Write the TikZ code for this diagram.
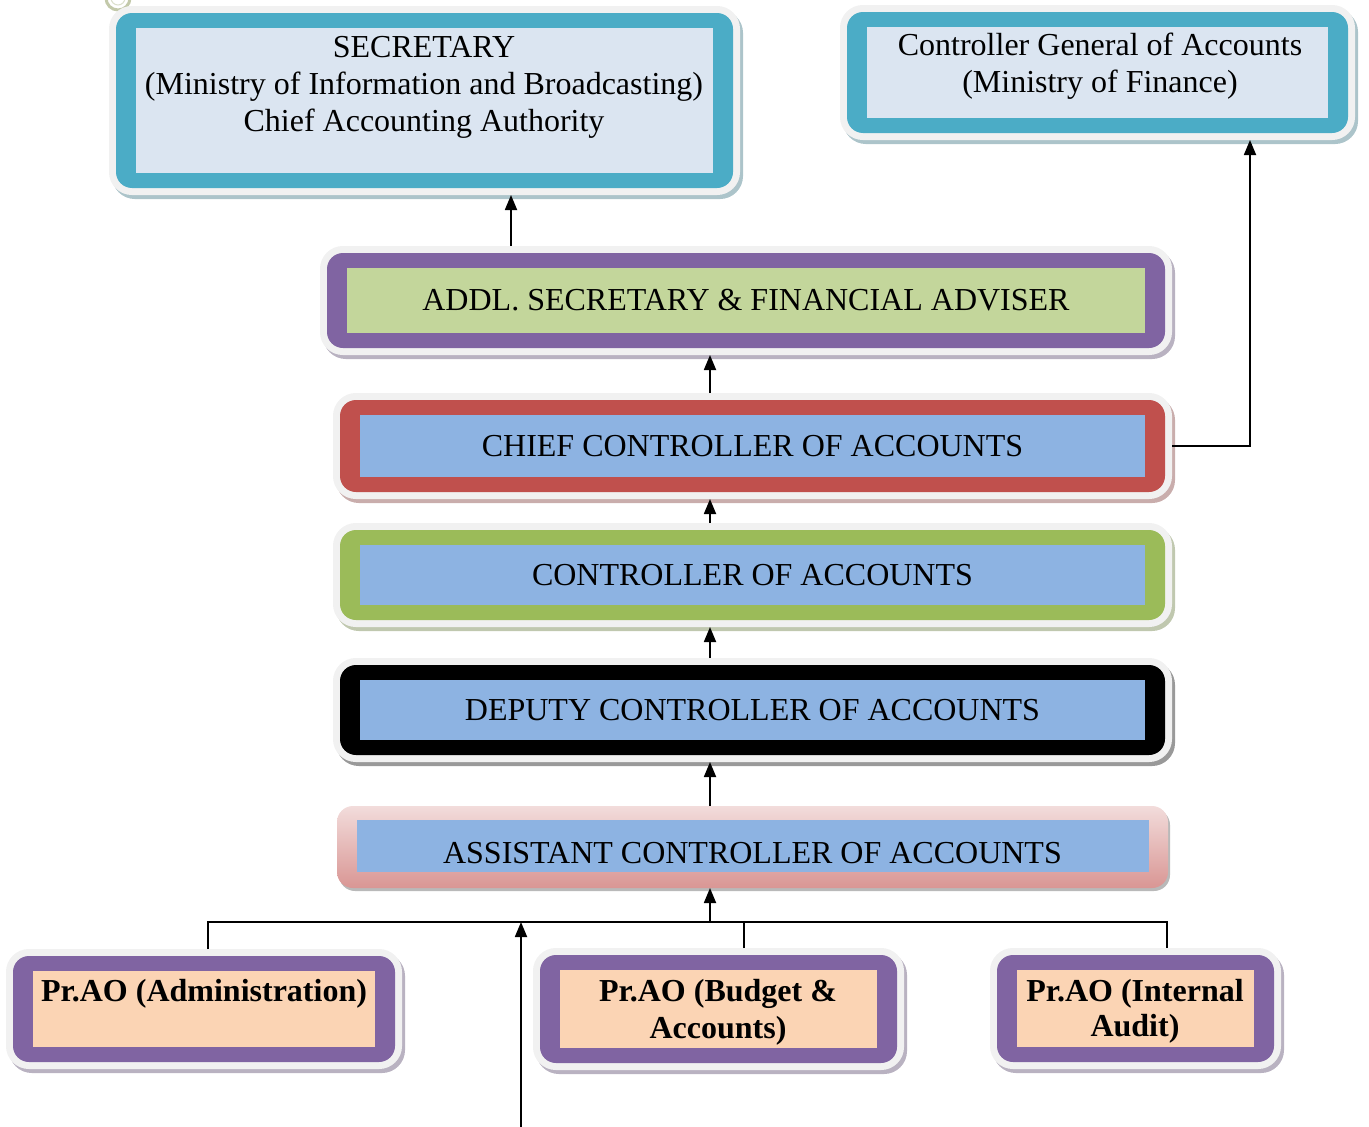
\documentclass[tikz,border=0pt]{standalone}
\usepackage{fontspec}
\setmainfont{Liberation Serif}
\usetikzlibrary{arrows.meta,shadows}
\definecolor{secBorder}{HTML}{4BACC6}
\definecolor{secFill}{HTML}{DBE5F1}
\definecolor{advBorder}{HTML}{8064A2}
\definecolor{advFill}{HTML}{C3D69B}
\definecolor{chiefBorder}{HTML}{C0504D}
\definecolor{ctrlBorder}{HTML}{9BBB59}
\definecolor{blueFill}{HTML}{8DB3E2}
\definecolor{asstLight}{HTML}{F2DCDB}
\definecolor{asstDark}{HTML}{D99694}
\definecolor{peachFill}{HTML}{FBD4B4}
\definecolor{halo}{HTML}{F1F1F1}
\definecolor{knobRing}{HTML}{C3C9AA}

\tikzset{
  orgbox/.style 2 args={draw=none, fill=#1, rounded corners=16pt,
    inner sep=0pt, outer sep=7pt, font=\fontsize{32}{37}\selectfont,
    general shadow={shadow xshift=3pt, shadow yshift=-4pt,
      fill=#1!45!gray!55!white, draw=#1!45!gray!55!white, line width=14pt},
    preaction={draw=halo, line width=14pt},
    path picture={\fill[#2, sharp corners] ([xshift=20pt,yshift=-15pt]path picture bounding box.north west)
      rectangle ([xshift=-20pt,yshift=15pt]path picture bounding box.south east);}},
  asstbox/.style={top color=asstLight, bottom color=asstDark, rounded corners=16pt,
    inner sep=0pt, outer sep=0pt, font=\fontsize{32}{37}\selectfont,
    general shadow={shadow xshift=2pt, shadow yshift=-3pt, fill=gray!55},
    path picture={\fill[blueFill, sharp corners] ([xshift=20pt,yshift=-14pt]path picture bounding box.north west)
      rectangle ([xshift=-19pt,yshift=16pt]path picture bounding box.south east);}},
  boxtext/.style={align=center, inner sep=0pt, font=\fontsize{32}{37}\selectfont},
  arr/.style={-{Triangle[length=15pt,width=12pt]}, line width=1.8pt},
  conn/.style={line width=1.8pt}
}

\begin{document}
\begin{tikzpicture}[x=1pt,y=-1pt]
\useasboundingbox (0,0) rectangle (1369,1127);

% little ring in the corner
\draw[line width=3pt, draw=knobRing, fill=white] (118,-2) circle (12pt);
\draw[line width=1pt, draw=knobRing!60] (118,-2) circle (7pt);

% top row
\node[orgbox={secBorder}{secFill}, minimum width=617pt, minimum height=175pt] (sec) at (424.5,100.5) {};
\node[boxtext, anchor=north] (secText) at (424,36) {SECRETARY\\(Ministry of Information and Broadcasting)\\Chief Accounting Authority};

\node[orgbox={secBorder}{secFill}, minimum width=501pt, minimum height=121pt] (cga) at (1097.5,72.5) {};
\node[boxtext, anchor=north] (cgaText) at (1100,33) {Controller General of Accounts\\(Ministry of Finance)};

% the chain
\node[orgbox={advBorder}{advFill}, minimum width=838pt, minimum height=95pt] (addl) at (746,300.5) {ADDL. SECRETARY \& FINANCIAL ADVISER};
\node[orgbox={chiefBorder}{blueFill}, minimum width=825pt, minimum height=92pt] (chief) at (752.5,446) {CHIEF CONTROLLER OF ACCOUNTS};
\node[orgbox={ctrlBorder}{blueFill}, minimum width=825pt, minimum height=90pt] (ctrl) at (752.5,575) {CONTROLLER OF ACCOUNTS};
\node[orgbox={black}{blueFill}, minimum width=825pt, minimum height=90pt] (dep) at (752.5,710) {DEPUTY CONTROLLER OF ACCOUNTS};
\node[asstbox, minimum width=831pt, minimum height=82pt] (asst) at (752.5,847) {\raisebox{-9pt}[22pt][7pt]{ASSISTANT CONTROLLER OF ACCOUNTS}};

% bottom row
\node[orgbox={advBorder}{peachFill}, minimum width=382pt, minimum height=106pt] (admin) at (204,1009) {};
\node[boxtext, anchor=north, font=\fontsize{32}{37}\selectfont\bfseries] (adminText) at (204,979) {Pr.AO (Administration)};
\node[orgbox={advBorder}{peachFill}, minimum width=357pt, minimum height=108pt] (budget) at (718.5,1009) {};
\node[boxtext, anchor=north, font=\fontsize{32}{37}\selectfont\bfseries] (budgetText) at (718,979) {Pr.AO (Budget \&\\Accounts)};
\node[orgbox={advBorder}{peachFill}, minimum width=277pt, minimum height=107pt] (internal) at (1135.5,1008.5) {};
\node[boxtext, anchor=north, font=\fontsize{32}{35}\selectfont\bfseries] (internalText) at (1135,979) {Pr.AO (Internal\\Audit)};

% connectors
\coordinate (bus) at (710,922);
\coordinate (feed) at (521,1127);

\draw[arr] ([xshift=-235pt]addl.north) -- ([xshift=-235pt]addl.north |- sec.south);
\foreach \lo/\hi in {chief/addl, ctrl/chief, dep/ctrl, asst/dep}
  \draw[arr] ([xshift=-42.5pt]\lo.north) -- ([xshift=-42.5pt]\lo.north |- \hi.south);
\draw[arr] (chief.east) -| ([xshift=152.5pt]cga.south);

\draw[conn] ([xshift=4pt]admin.north) |- (bus) -| ([xshift=31.5pt]internal.north);
\draw[conn] ([xshift=25.5pt]budget.north) -- ([xshift=25.5pt]budget.north |- bus);
\draw[arr] (bus) -- (bus |- asst.south);
\draw[arr] (feed) -- (feed |- bus);

\end{tikzpicture}
\end{document}
